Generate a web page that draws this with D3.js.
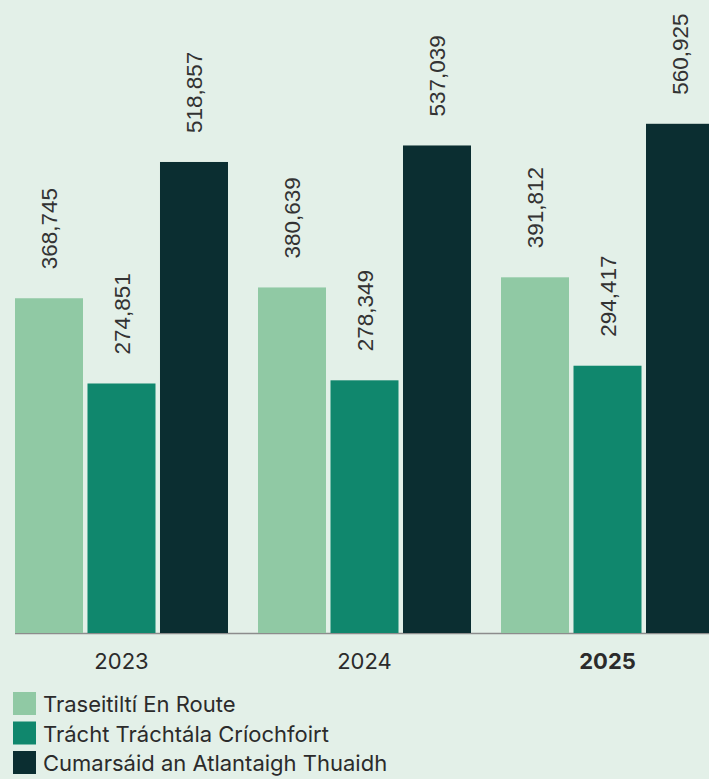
<!DOCTYPE html>
<html>
<head>
<meta charset="utf-8">
<script src="https://cdn.jsdelivr.net/npm/d3@7"></script>
<style>
  html, body { margin: 0; padding: 0; background: #e3f0e8; }
  svg { display: block; }
</style>
</head>
<body>
<svg id="chart"></svg>
<script>
// data
const years = ['2023', '2024', '2025'];
const seriesNames = ['Traseitiltí En Route', 'Trácht Tráchtála Críochfoirt', 'Cumarsáid an Atlantaigh Thuaidh'];
const enRoute = [368745, 380639, 391812];
const terminal = [274851, 278349, 294417];
const northAtlantic = [518857, 537039, 560925];
const boldYear = '2025';

const colors = ['#90c9a4', '#10876d', '#0b2e31'];

const width = 709, height = 779;
const baseline = 633;

const svg = d3.select('#chart')
    .attr('width', width)
    .attr('height', height);

svg.append('rect')
    .attr('width', width)
    .attr('height', height)
    .attr('fill', '#e3f0e8');

const rows = years.map((y, i) => ({
    year: y,
    values: [enRoute[i], terminal[i], northAtlantic[i]]
}));

const xscale = d3.scaleBand()
    .domain(years)
    .range([15, 714])
    .paddingInner(0.1235)
    .paddingOuter(0);

const xinner = d3.scaleBand()
    .domain(d3.range(seriesNames.length))
    .range([0, xscale.bandwidth()])
    .paddingInner(0.062)
    .paddingOuter(0);

const yscale = d3.scaleLinear()
    .domain([0, 700000])
    .range([baseline, baseline - 700000 * 0.0009078]);

// axis
const xaxis = d3.axisBottom(xscale)
    .tickSize(0)
    .tickPadding(20);

const axisG = svg.append('g')
    .attr('transform', `translate(0, ${baseline})`)
    .call(xaxis);

axisG.select('.domain')
    .attr('stroke', '#8c8c8c')
    .attr('stroke-width', 1.5)
    .attr('d', `M15,0.5H${width}`);

axisG.selectAll('.tick text')
    .attr('font-family', 'Inter, "Noto Sans", sans-serif')
    .attr('font-size', 22)
    .attr('fill', '#2b2b2b')
    .attr('font-weight', d => d === boldYear ? 700 : 400);

// bars
const groups = svg.append('g')
    .selectAll('g.group')
    .data(rows)
    .join('g')
    .attr('class', 'group')
    .attr('transform', d => `translate(${xscale(d.year)}, 0)`);

groups.selectAll('rect')
    .data(d => d.values.map((v, i) => ({ i, v })))
    .join('rect')
    .attr('x', d => xinner(d.i))
    .attr('y', d => yscale(d.v))
    .attr('width', xinner.bandwidth())
    .attr('height', d => baseline - yscale(d.v))
    .attr('fill', d => colors[d.i]);

const fmt = d3.format(',');

groups.selectAll('text.value')
    .data(d => d.values.map((v, i) => ({ i, v })))
    .join('text')
    .attr('class', 'value')
    .attr('transform', d => `translate(${xinner(d.i) + xinner.bandwidth() / 2}, ${yscale(d.v) - 29}) rotate(-90)`)
    .attr('dy', '0.36em')
    .attr('text-anchor', 'start')
    .attr('font-family', '"Liberation Sans", Arial, sans-serif')
    .attr('font-size', 22.5)
    .attr('fill', '#333')
    .text(d => fmt(d.v));

// legend
const legend = svg.append('g')
    .selectAll('g')
    .data(seriesNames)
    .join('g')
    .attr('transform', (d, i) => `translate(13, ${692 + i * 29.5})`);

legend.append('rect')
    .attr('width', 23)
    .attr('height', 23)
    .attr('fill', (d, i) => colors[i]);

legend.append('text')
    .attr('x', 30)
    .attr('y', 20)
    .attr('font-family', 'Inter, "Noto Sans", sans-serif')
    .attr('font-size', 22)
    .attr('fill', '#2b2b2b')
    .text(d => d);
</script>
</body>
</html>
